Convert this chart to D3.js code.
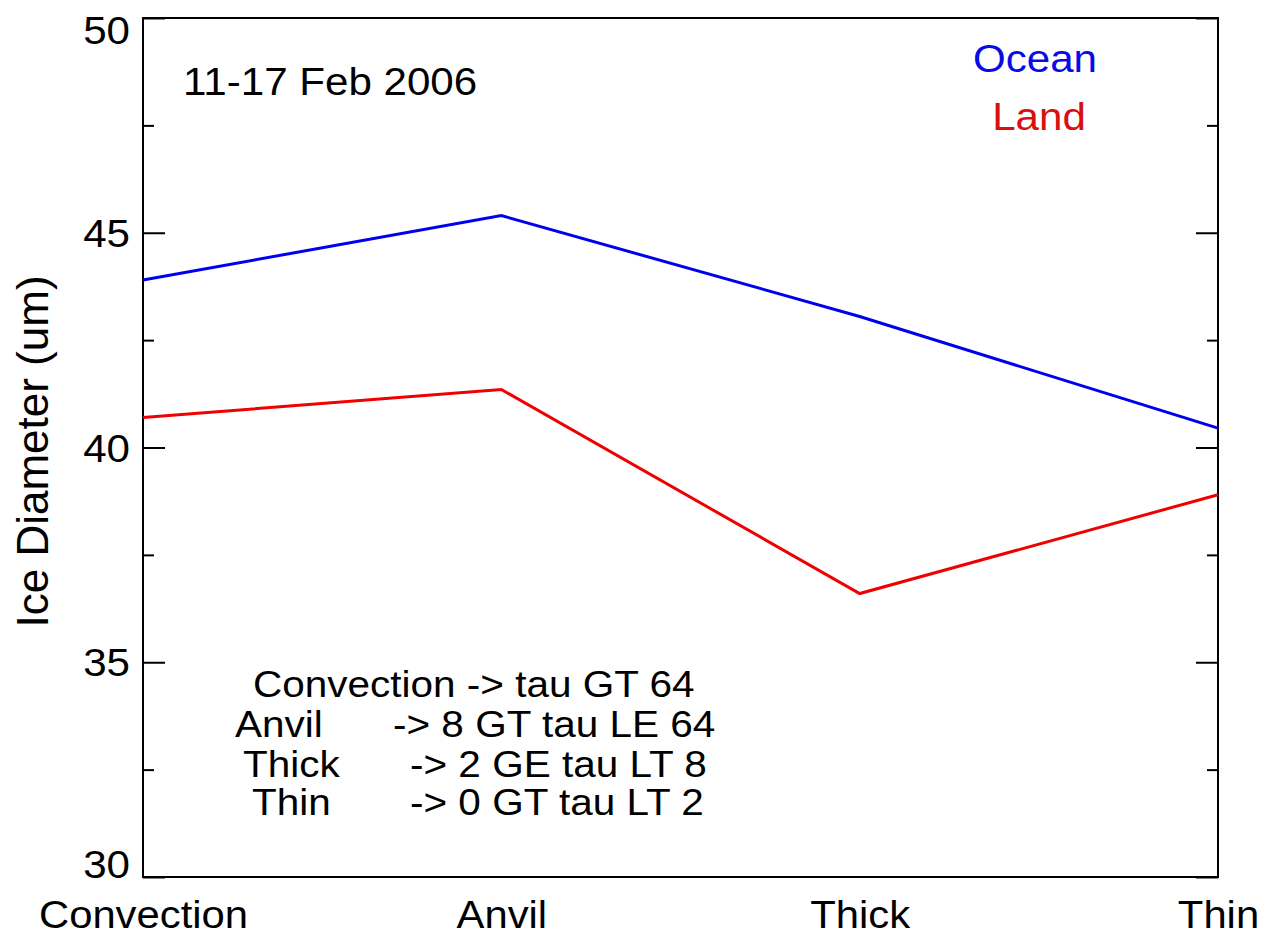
<!DOCTYPE html>
<html>
<head>
<meta charset="utf-8">
<style>
  body { margin: 0; background: #fff; }
  text { font-family: "Liberation Sans", Arial, sans-serif; fill: #000; }
  .axis .domain { display: none; }
  .axis line { stroke: #000; stroke-width: 2px; }
</style>
</head>
<body>
<svg id="chart" width="1267" height="936"></svg>
<script src="https://cdn.jsdelivr.net/npm/d3@7"></script>
<script>
// data
var categories = ["Convection", "Anvil", "Thick", "Thin"];
var ocean = [43.9, 45.4, 43.05, 40.45];
var land = [40.7, 41.35, 36.6, 38.9];
var majorTicks = [30, 35, 40, 45, 50];
var minorTicks = [32.5, 37.5, 42.5, 47.5];
var notes = [
  ["Convection -> tau GT 64", ""],
  ["Anvil", "-> 8 GT tau LE 64"],
  ["Thick", "-> 2 GE tau LT 8"],
  ["Thin", "-> 0 GT tau LT 2"]
];

var svg = d3.select("#chart"),
  margin = { top: 18, right: 49, bottom: 59, left: 143 },
  width = +svg.attr("width") - margin.left - margin.right,
  height = +svg.attr("height") - margin.top - margin.bottom,
  g = svg.append("g").attr("transform", "translate(" + margin.left + "," + margin.top + ")");

var stretch = 1.08;

var x = d3.scalePoint().domain(categories).range([0, width]).padding(0);
var y = d3.scaleLinear().domain([30, 50]).range([height, 0]);

// y axis left: inward ticks, labels kept inside the frame at the ends
var yAxis = g.append("g")
  .attr("class", "axis")
  .call(d3.axisLeft(y).tickValues(majorTicks).tickSize(-22).tickPadding(12).tickFormat(d3.format("d")));
yAxis.selectAll("text")
  .attr("dy", null)
  .attr("y", function (d) {
    var base = y(d) + 13.5;
    return Math.min(Math.max(base, 25), height) - y(d);
  })
  .attr("transform", "scale(" + stretch + ",1)")
  .style("font-size", "39px");

g.append("g")
  .attr("class", "axis")
  .call(d3.axisLeft(y).tickValues(minorTicks).tickSize(-11).tickFormat(""));

// right side ticks
g.append("g")
  .attr("class", "axis")
  .attr("transform", "translate(" + width + ",0)")
  .call(d3.axisRight(y).tickValues(majorTicks).tickSize(-22).tickFormat(""));
g.append("g")
  .attr("class", "axis")
  .attr("transform", "translate(" + width + ",0)")
  .call(d3.axisRight(y).tickValues(minorTicks).tickSize(-11).tickFormat(""));

// x axis labels
var xAxis = g.append("g")
  .attr("class", "axis")
  .attr("transform", "translate(0," + height + ")")
  .call(d3.axisBottom(x).tickSize(0).tickPadding(24));
xAxis.selectAll("text")
  .style("font-size", "38px")
  .attr("transform", "scale(1.1,1)")
  .attr("x", 0);

// frame
g.append("rect")
  .attr("width", width)
  .attr("height", height)
  .attr("fill", "none")
  .attr("stroke", "#000")
  .attr("stroke-width", 2);

var line = d3.line()
  .x(function (d, i) { return x(categories[i]); })
  .y(function (d) { return y(d); });

g.append("path").datum(ocean)
  .attr("d", line)
  .attr("fill", "none")
  .attr("stroke", "#0000f0")
  .attr("stroke-width", 3);

g.append("path").datum(land)
  .attr("d", line)
  .attr("fill", "none")
  .attr("stroke", "#f00000")
  .attr("stroke-width", 3);

function label(px, py, txt, size, anchor, color) {
  return svg.append("text")
    .attr("transform", "translate(" + px + "," + py + ") scale(" + stretch + ",1)")
    .attr("text-anchor", anchor || "start")
    .style("font-size", size + "px")
    .style("fill", color || "#000")
    .text(txt);
}

label(183, 95, "11-17 Feb 2006", 39);
label(1035, 72, "Ocean", 39, "middle", "#0a0ae8");
label(1039, 130, "Land", 39, "middle", "#d81010");

// y axis title
svg.append("text")
  .attr("transform", "translate(48," + (margin.top + height / 2 + 4) + ") rotate(-90)")
  .attr("text-anchor", "middle")
  .style("font-size", "44px")
  .text("Ice Diameter (um)");

// tau class notes
var noteBase = [697, 737, 777, 815];
var noteX1 = [253, 235, 243, 252];
var noteX2 = [0, 393, 410, 410];
notes.forEach(function (n, i) {
  label(noteX1[i], noteBase[i], n[0], 37.5);
  if (n[1]) label(noteX2[i], noteBase[i], n[1], 37.5);
});
</script>
</body>
</html>
